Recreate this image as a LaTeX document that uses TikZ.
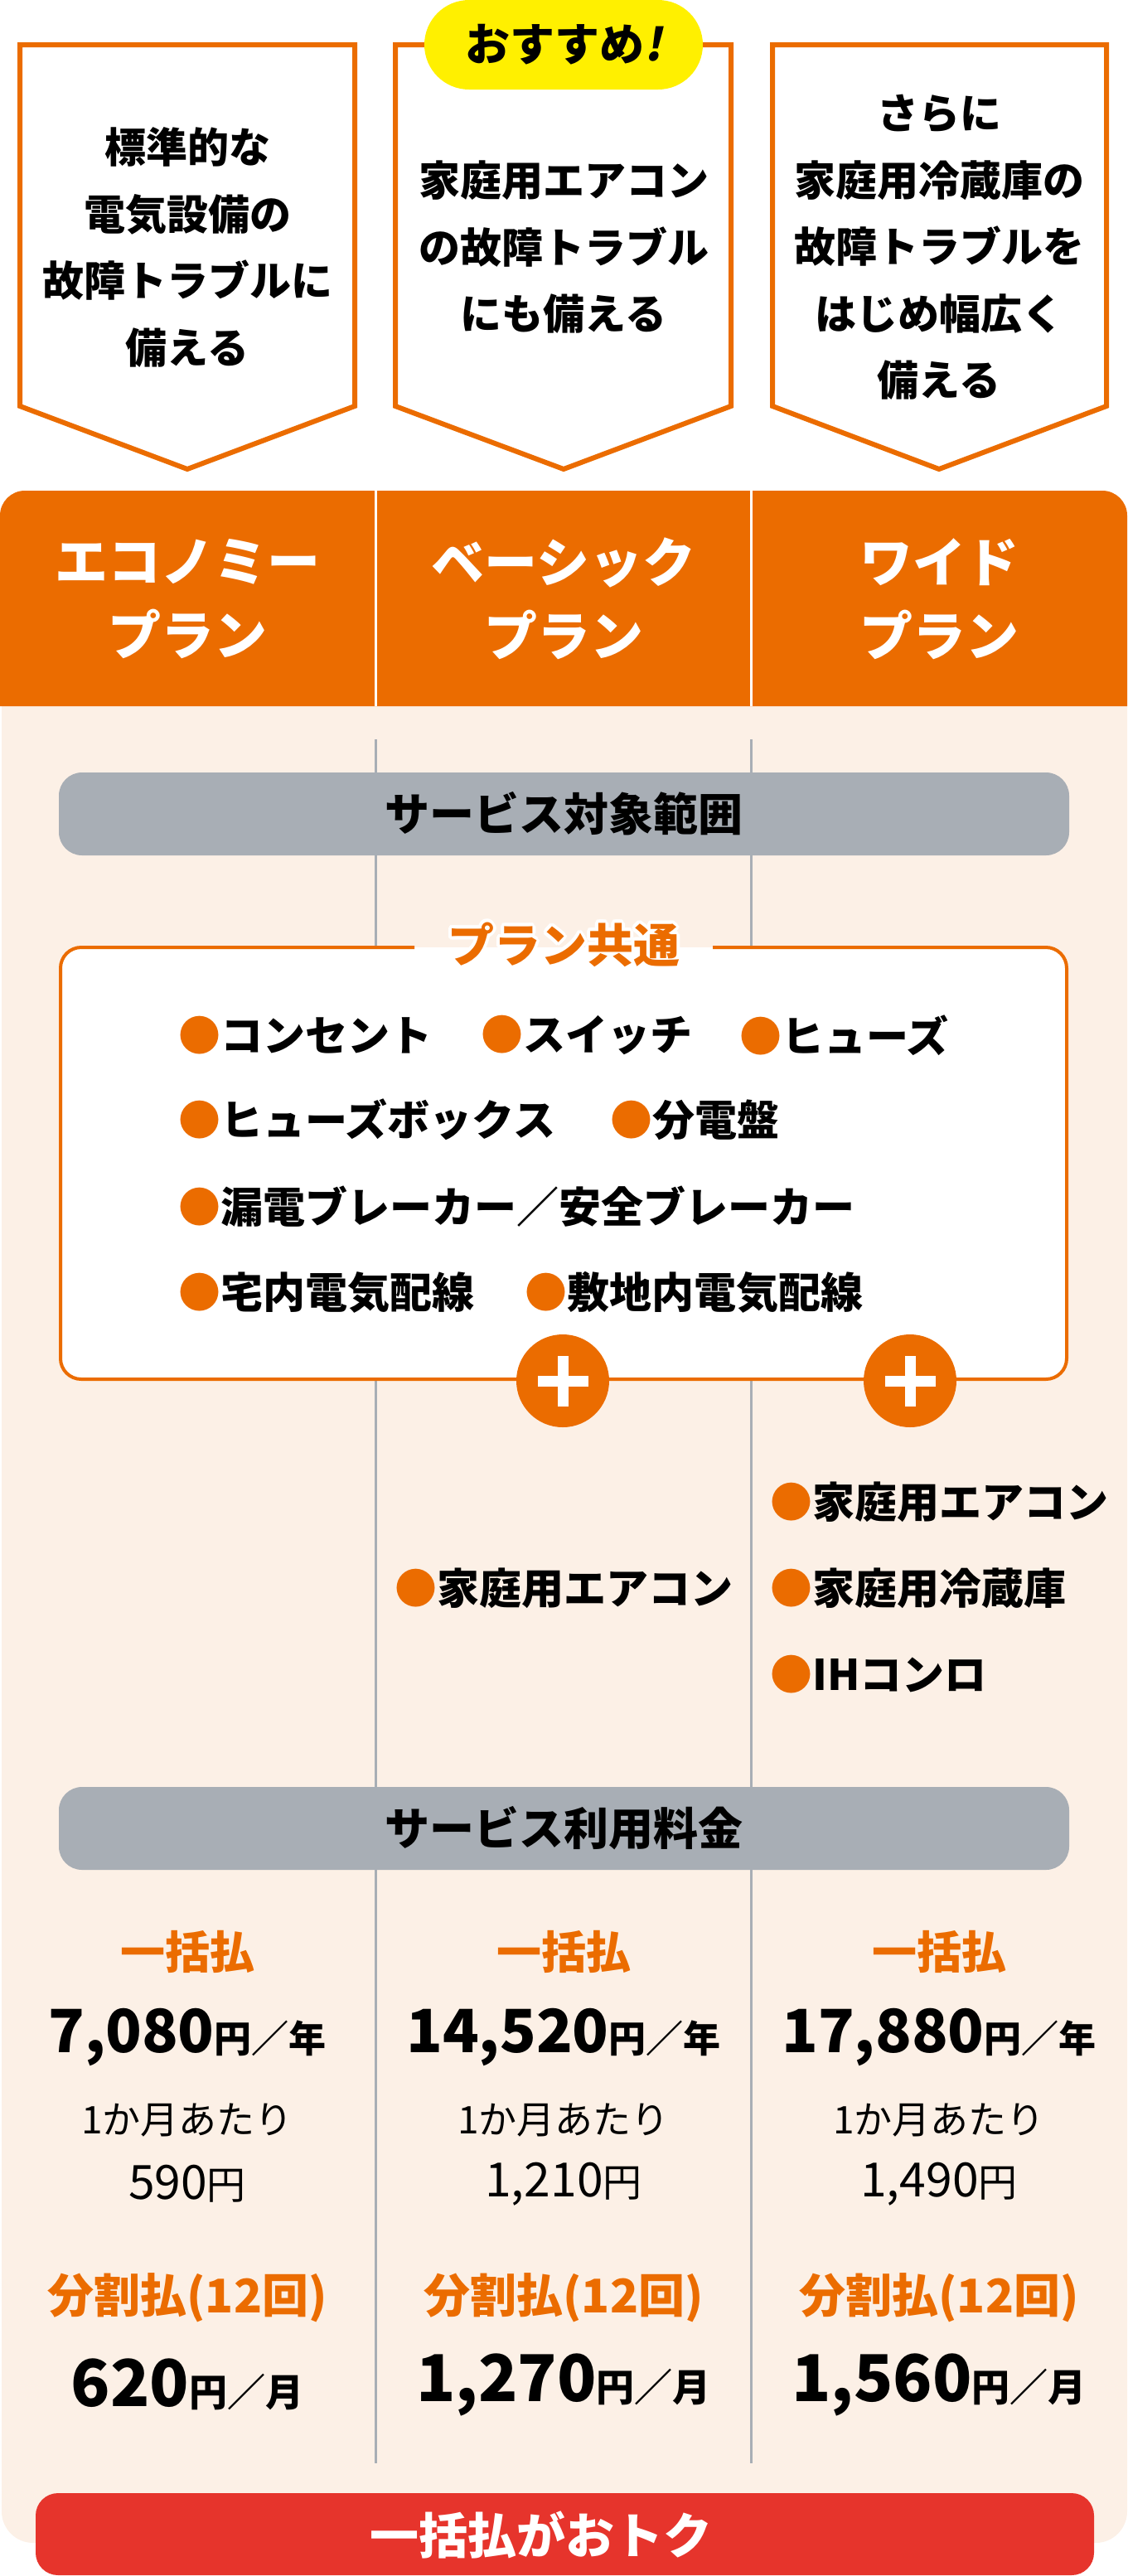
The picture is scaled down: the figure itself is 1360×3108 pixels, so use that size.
\documentclass[tikz,border=0pt]{standalone}
\usepackage{fontspec}
\setmainfont{Noto Sans CJK JP}
\newfontfamily\jpslant{Noto Sans CJK JP}[FakeSlant=0.2]
\usepackage{contour}
\contourlength{4pt}
\contournumber{16}
\definecolor{orng}{RGB}{235,108,0}
\definecolor{peach}{RGB}{252,240,230}
\definecolor{barg}{RGB}{168,174,181}
\definecolor{redb}{RGB}{230,52,44}
\definecolor{yell}{RGB}{255,240,0}
\newcommand\setfs[2]{\fontsize{#1}{#2}\selectfont}
\begin{document}
\begin{tikzpicture}[x=1pt,y=-1pt,
  pent/.style={draw=orng, line width=6pt, fill=white, line join=miter},
  boxtext/.style={align=center, font=\setfs{50}{80.5}\bfseries, inner sep=0},
  headtext/.style={align=center, text=white, font=\setfs{64}{89}\bfseries, inner sep=0},
  graybar/.style={fill=barg, rounded corners=28pt},
  bartext/.style={font=\setfs{54}{54}\bfseries, inner sep=0},
  itemtext/.style={anchor=west, inner sep=0, font=\setfs{51}{51}\bfseries},
  divline/.style={draw=barg, line width=3pt},
  pluscirc/.style={circle, fill=orng, minimum size=112pt, inner sep=0},
  orhead/.style={text=orng, font=\setfs{54}{54}\bfseries, inner sep=0},
  pricebig/.style={font=\bfseries, inner sep=0},
  pricesmall/.style={font=\setfs{46}{46}, inner sep=0}
]
\useasboundingbox (0,0) rectangle (1360,3108);

% ---- top pentagon boxes ----
\draw[pent] (24,54) -- (428,54) -- (428,490) -- (226,566) -- (24,490) -- cycle;
\draw[pent] (477,54) -- (882,54) -- (882,490) -- (680,566) -- (477,490) -- cycle;
\draw[pent] (932,54) -- (1335,54) -- (1335,490) -- (1133,566) -- (932,490) -- cycle;

\node[fill=yell, rounded corners=54pt, minimum width=336pt, minimum height=108pt, inner sep=0,
      font=\setfs{54}{54}\bfseries] (badge) at (680,54) {おすすめ{\jpslant !}};

\node[boxtext] (t1) at (226,298.5) {標準的な\\電気設備の\\故障トラブルに\\備える};
\node[boxtext] (t2) at (680,298.5) {家庭用エアコン\\の故障トラブル\\にも備える};
\node[boxtext] (t3) at (1133,298.5) {さらに\\家庭用冷蔵庫の\\故障トラブルを\\はじめ幅広く\\備える};

% ---- backgrounds ----
\fill[peach] [rounded corners=38pt] (2,852) rectangle (1360,3068)
             [sharp corners] (2,852) rectangle (1360,2950);
\fill[orng] [rounded corners=30pt] (0,592) rectangle (1360,852)
            [sharp corners] (0,700) rectangle (1360,852);
\draw[white, line width=3pt] (453,592) -- (453,852);
\draw[white, line width=3pt] (906,592) -- (906,852);

\node[headtext] (h1) at (226,722.5) {エコノミー\\プラン};
\node[headtext] (h2) at (680,722.5) {ベーシック\\プラン};
\node[headtext] (h3) at (1133,722.5) {ワイド\\プラン};

% ---- column dividers ----
\coordinate (d1a) at (453,892); \coordinate (d1b) at (453,2972);
\coordinate (d2a) at (906,892); \coordinate (d2b) at (906,2972);
\draw[divline] (d1a) -- (d1b);
\draw[divline] (d2a) -- (d2b);

% ---- service scope bar ----
\fill[graybar] (71,932) rectangle (1290,1032);
\node[bartext] (scope) at (680,982) {サービス対象範囲};

% ---- common plan box ----
\fill[white, rounded corners=25pt] (73,1143) rectangle (1287,1664);
\draw[orng, line width=4pt, rounded corners=25pt]
  (860,1143) -- (1287,1143) -- (1287,1664) -- (73,1664) -- (73,1143) -- (500,1143);
\node[orhead, font=\setfs{56}{56}\bfseries] (common) at (680,1142) {\contour{white}{プラン共通}};

\node[itemtext] (i1) at (215,1249) {{\color{orng}●}コンセント};
\node[itemtext] (i2) at (580,1249) {{\color{orng}●}スイッチ};
\node[itemtext] (i3) at (892,1249) {{\color{orng}●}ヒューズ};
\node[itemtext] (i4) at (215,1351) {{\color{orng}●}ヒューズボックス};
\node[itemtext] (i5) at (736,1351) {{\color{orng}●}分電盤};
\node[itemtext] (i6) at (215,1456) {{\color{orng}●}漏電ブレーカー／安全ブレーカー};
\node[itemtext] (i7) at (215,1559) {{\color{orng}●}宅内電気配線};
\node[itemtext] (i8) at (633,1559) {{\color{orng}●}敷地内電気配線};

% ---- plus circles ----
\node[pluscirc] (plusB) at (679,1666) {};
\node[pluscirc] (plusW) at (1098,1666) {};
\foreach \p in {plusB,plusW}{
  \fill[white] ([shift={(-30.5,-6.5)}]\p.center) rectangle ([shift={(30.5,6.5)}]\p.center);
  \fill[white] ([shift={(-6.5,-30.5)}]\p.center) rectangle ([shift={(6.5,30.5)}]\p.center);
}

% ---- extra items ----
\node[itemtext] (b1) at (476,1916) {{\color{orng}●}家庭用エアコン};
\node[itemtext] (w1) at (929,1812) {{\color{orng}●}家庭用エアコン};
\node[itemtext] (w2) at (929,1916) {{\color{orng}●}家庭用冷蔵庫};
\node[itemtext] (w3) at (929,2020) {{\color{orng}●}IHコンロ};

% ---- fee bar ----
\fill[graybar] (71,2156) rectangle (1290,2256);
\node[bartext] (fee) at (680,2206) {サービス利用料金};

% ---- prices ----
\node[orhead] (lumpE) at (226,2355) {一括払};
\node[orhead] (lumpB) at (680,2355) {一括払};
\node[orhead] (lumpW) at (1133,2355) {一括払};

\node[pricebig] (yE) at (226,2458) {\setfs{72}{72}7,080\setfs{45}{45}円／年};
\node[pricebig] (yB) at (680,2458) {\setfs{72}{72}14,520\setfs{45}{45}円／年};
\node[pricebig] (yW) at (1133,2458) {\setfs{72}{72}17,880\setfs{45}{45}円／年};

\node[pricesmall] (mE) at (226,2558) {1か月あたり};
\node[pricesmall] (mB) at (680,2558) {1か月あたり};
\node[pricesmall] (mW) at (1133,2558) {1か月あたり};

\node[pricebig, font=\mdseries] (pmE) at (226,2635) {\setfs{57}{57}590\setfs{47}{47}円};
\node[pricebig, font=\mdseries] (pmB) at (680,2635) {\setfs{57}{57}1,210\setfs{47}{47}円};
\node[pricebig, font=\mdseries] (pmW) at (1133,2635) {\setfs{57}{57}1,490\setfs{47}{47}円};

\node[orhead, font=\setfs{56}{56}\bfseries] (instE) at (226,2772) {分割払(12回)};
\node[orhead, font=\setfs{56}{56}\bfseries] (instB) at (680,2772) {分割払(12回)};
\node[orhead, font=\setfs{56}{56}\bfseries] (instW) at (1133,2772) {分割払(12回)};

\node[pricebig] (iE) at (226,2877) {\setfs{78}{78}620\setfs{46}{46}円／月};
\node[pricebig] (iB) at (680,2877) {\setfs{78}{78}1,270\setfs{46}{46}円／月};
\node[pricebig] (iW) at (1133,2877) {\setfs{78}{78}1,560\setfs{46}{46}円／月};

% ---- red button ----
\fill[redb, rounded corners=27pt] (43,3008) rectangle (1320,3107);
\node[text=white, font=\setfs{59}{59}\bfseries, inner sep=0] (deal) at (653,3058) {一括払がおトク};
\end{tikzpicture}
\end{document}
